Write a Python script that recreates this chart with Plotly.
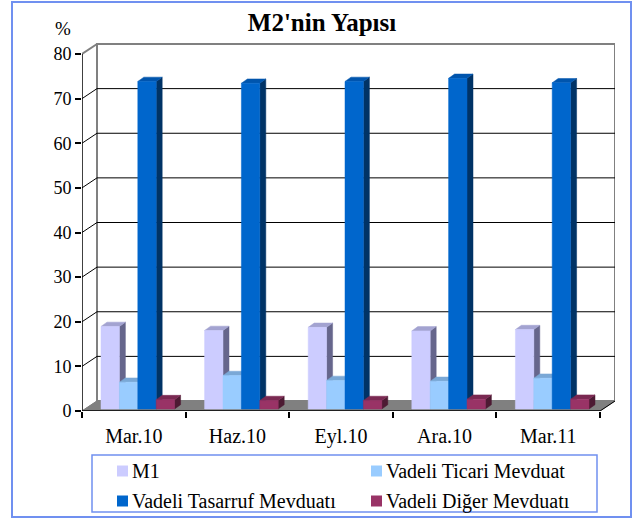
import plotly.graph_objects as go

# ---- data ----
categories = ["Mar.10", "Haz.10", "Eyl.10", "Ara.10", "Mar.11"]
series_names = ["M1", "Vadeli Ticari Mevduat", "Vadeli Tasarruf Mevduatı", "Vadeli Diğer Mevduatı"]
m1 = [18.5, 17.6, 18.3, 17.5, 17.8]
ticari = [6.0, 7.5, 6.4, 6.2, 6.9]
tasarruf = [73.4, 73.0, 73.4, 74.1, 73.1]
diger = [2.1, 1.9, 1.9, 2.2, 2.2]
y_ticks = [0, 10, 20, 30, 40, 50, 60, 70, 80]

series_values = [m1, ticari, tasarruf, diger]
front_colors = ["#CCCCFF", "#99CCFF", "#0066CC", "#993366"]
top_colors = ["#A3A3D1", "#7AA8D6", "#0055AD", "#7A2952"]
side_colors = ["#66668C", "#6688AA", "#003366", "#4D1A33"]

FONT = "Liberation Serif, Times New Roman, serif"

# ---- geometry (pixel-based scale of the 3D look) ----
PXX = 103.6      # px per category unit
PXY = 4.4625     # px per % unit
DX = 15 / PXX    # wall depth
DY = 10 / PXY
BW = 18.4 / PXX  # bar width
OX = 4 / PXX     # bar offset into depth
OY = 2 / PXY
BDX = 6 / PXX    # bar depth
BDY = 4.3 / PXY
n = len(categories)
x_lo, x_hi = -0.5, n - 0.5
y_top = 371 / PXY

fig = go.Figure()

def poly_trace(xs, ys, color, name):
    return go.Scatter(x=xs, y=ys, mode="lines", fill="toself", fillcolor=color,
                      line=dict(color=color, width=0.5), name=name, showlegend=False,
                      hoverinfo="skip")

for k, vals in enumerate(series_values):
    fx, fy, tx, ty, sx, sy = [], [], [], [], [], []
    for i, v in enumerate(vals):
        x0 = i + (k - 2) * BW + OX
        x1 = x0 + BW
        y0 = OY
        y1 = OY + v
        fx += [x0, x1, x1, x0, x0, None]
        fy += [y0, y0, y1, y1, y0, None]
        tx += [x0, x1, x1 + BDX, x0 + BDX, x0, None]
        ty += [y1, y1, y1 + BDY, y1 + BDY, y1, None]
        sx += [x1, x1 + BDX, x1 + BDX, x1, x1, None]
        sy += [y0, y0 + BDY, y1 + BDY, y1, y0, None]
    fig.add_trace(poly_trace(sx, sy, side_colors[k], series_names[k]))
    fig.add_trace(poly_trace(tx, ty, top_colors[k], series_names[k]))
    fig.add_trace(poly_trace(fx, fy, front_colors[k], series_names[k]))

shapes = []
annotations = []
gray = "#808080"
# floor
shapes.append(dict(type="path", layer="below", line=dict(color=gray, width=1), fillcolor=gray,
                   path=f"M {x_lo},0 L {x_hi},0 L {x_hi+DX},{DY} L {x_lo+DX},{DY} Z"))
# back wall
shapes.append(dict(type="rect", layer="below", x0=x_lo + DX, x1=x_hi + DX, y0=DY, y1=80 + DY,
                   line=dict(color=gray, width=2), fillcolor="white"))
# grid lines on back wall and left wall
for v in y_ticks[1:-1]:
    shapes.append(dict(type="line", layer="below", x0=x_lo + DX, x1=x_hi + DX, y0=v + DY, y1=v + DY,
                       line=dict(color="black", width=1)))
    shapes.append(dict(type="line", layer="below", x0=x_lo, x1=x_lo + DX, y0=v, y1=v + DY,
                       line=dict(color="black", width=1)))
shapes.append(dict(type="line", layer="below", x0=x_lo, x1=x_lo + DX, y0=80, y1=80 + DY,
                   line=dict(color=gray, width=2)))
shapes.append(dict(type="line", layer="below", x0=x_lo, x1=x_lo + DX, y0=0, y1=DY,
                   line=dict(color=gray, width=1)))
# front axes
shapes.append(dict(type="line", layer="above", x0=x_lo, x1=x_lo, y0=0, y1=80,
                   line=dict(color="black", width=1.5)))
shapes.append(dict(type="line", layer="above", x0=x_lo, x1=x_hi, y0=0, y1=0,
                   line=dict(color="black", width=1.5)))
shapes.append(dict(type="line", layer="above", x0=x_hi, x1=x_hi + DX, y0=0, y1=DY,
                   line=dict(color="black", width=1)))

W, H = 643, 521
L, R, T, B = 82, 615, 40, 411
def px_x(p): return (p - L) / (R - L)
def px_y(p): return (B - p) / (B - T)

# outer border
shapes.append(dict(type="rect", xref="paper", yref="paper", layer="below",
                   x0=px_x(12), x1=px_x(631), y0=px_y(517), y1=px_y(2),
                   line=dict(color="#7090F0", width=2)))

# legend box (manual, two columns)
border_blue = "#7090F0"
shapes.append(dict(type="rect", xref="paper", yref="paper", layer="above",
                   x0=px_x(92), x1=px_x(597), y0=px_y(512), y1=px_y(455),
                   line=dict(color=border_blue, width=1.5), fillcolor="white"))
leg_cols = [117, 371]
leg_rows = [471, 501]
for k, name in enumerate(series_names):
    cx = leg_cols[k % 2]
    cy = leg_rows[k // 2]
    shapes.append(dict(type="rect", xref="paper", yref="paper", layer="above",
                       x0=px_x(cx), x1=px_x(cx + 11), y0=px_y(cy + 5.5), y1=px_y(cy - 5.5),
                       line=dict(width=0), fillcolor=front_colors[k]))
    annotations.append(dict(text=name, xref="paper", yref="paper", x=px_x(cx + 13), y=px_y(cy),
                            xanchor="left", yanchor="middle", showarrow=False,
                            font=dict(size=20, family=FONT, color="black")))

annotations.append(dict(text="%", xref="paper", yref="paper", x=px_x(63), y=px_y(28),
                        xanchor="center", yanchor="middle", showarrow=False,
                        font=dict(size=19, family=FONT, color="black")))

fig.update_layout(
    width=W, height=H,
    margin=dict(l=L, r=W - R, t=T, b=H - B),
    paper_bgcolor="white", plot_bgcolor="rgba(0,0,0,0)",
    font=dict(family=FONT, color="black", size=18),
    showlegend=False,
    title=dict(text="<b>M2'nin Yapısı</b>", x=322 / W, xanchor="center", y=1 - 22 / H, yanchor="middle",
               font=dict(size=25, family=FONT, color="black")),
    shapes=shapes,
    annotations=annotations,
    xaxis=dict(range=[x_lo, x_hi + DX], showgrid=False, zeroline=False, showline=False,
               tickmode="array", tickvals=list(range(n)), ticktext=categories, ticks="",
               ticklabelstandoff=11, tickfont=dict(size=20, family=FONT),
               minor=dict(tickmode="array", tickvals=[i - 0.5 for i in range(n + 1)],
                          ticks="outside", ticklen=6, tickcolor="black", tickwidth=1.5, showgrid=False),
               fixedrange=True),
    yaxis=dict(range=[0, y_top], showgrid=False, zeroline=False, showline=False,
               tickmode="array", tickvals=y_ticks, ticktext=[str(t) for t in y_ticks],
               ticks="outside", ticklen=6, tickcolor="black", tickwidth=1.5,
               tickfont=dict(size=18, family=FONT), fixedrange=True),
)

fig.write_html("out.html", config={"displayModeBar": False},
               post_script="document.body.style.margin='0';document.body.style.padding='0';")
